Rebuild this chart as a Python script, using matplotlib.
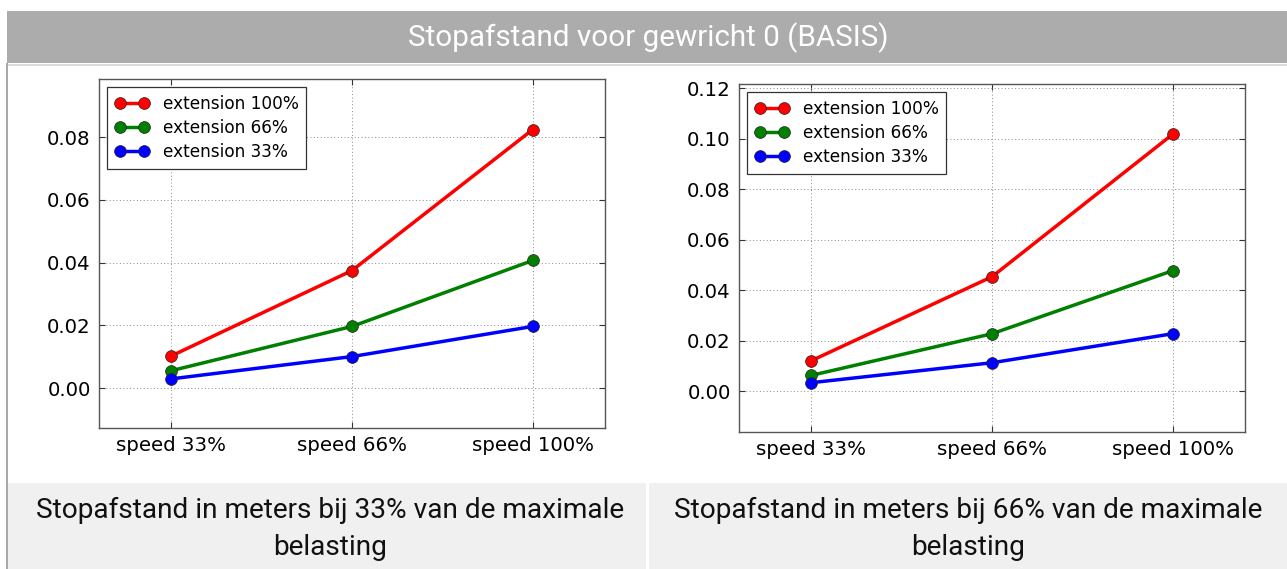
import matplotlib
matplotlib.use("Agg")
import matplotlib.pyplot as plt
from matplotlib.patches import Rectangle

W, H = 1287, 569

title = "Stopafstand voor gewricht 0 (BASIS)"
speeds = ["speed 33%", "speed 66%", "speed 100%"]
series_names = ["extension 100%", "extension 66%", "extension 33%"]
series_colors = ["red", "green", "blue"]

# left chart: 33% load
left_ext100 = [0.0103, 0.0375, 0.0824]
left_ext66 = [0.0056, 0.0197, 0.0407]
left_ext33 = [0.0030, 0.0101, 0.0197]
left_yticks = [0.00, 0.02, 0.04, 0.06, 0.08]

# right chart: 66% load
right_ext100 = [0.0120, 0.0453, 0.1018]
right_ext66 = [0.0062, 0.0227, 0.0477]
right_ext33 = [0.0033, 0.0112, 0.0227]
right_yticks = [0.00, 0.02, 0.04, 0.06, 0.08, 0.10, 0.12]

captions = ["Stopafstand in meters bij 33% van de maximale\nbelasting",
            "Stopafstand in meters bij 66% van de maximale\nbelasting"]

fig = plt.figure(figsize=(W / 100, H / 100), dpi=100)
fig.patch.set_facecolor("white")


def px_rect(x0, y0, x1, y1, **kw):
    fig.patches.append(Rectangle((x0 / W, 1 - y1 / H), (x1 - x0) / W, (y1 - y0) / H,
                                 transform=fig.transFigure, figure=fig, **kw))


# header band
px_rect(7, 11, W, 63, facecolor="#acacac", edgecolor="none")
px_rect(7, 64, W, 66, facecolor="#dcdcdc", edgecolor="none")
# left border line
px_rect(6, 63, 8, H, facecolor="#a8a8a8", edgecolor="none")
# caption boxes
px_rect(8, 483, 646, H, facecolor="#eff0ef", edgecolor="none")
px_rect(649, 483, W, H, facecolor="#eff0ef", edgecolor="none")

fig.text(648 / W, 1 - 38 / H, title, color="white", fontsize=21.3,
         family=["Roboto", "DejaVu Sans"], ha="center", va="center")

for cx, cap in zip([330, 968], captions):
    fig.text(cx / W, 1 - 529 / H, cap, color="#111111", fontsize=20.2,
             family=["Roboto", "DejaVu Sans"], ha="center", va="center",
             linespacing=1.45)


def make_axes(x0, y0, x1, y1, data, yticks, ylim):
    ax = fig.add_axes([x0 / W, 1 - y1 / H, (x1 - x0) / W, (y1 - y0) / H])
    xs = list(range(len(speeds)))
    for vals, name, col in zip(data, series_names, series_colors):
        ax.plot(xs, vals, color=col, lw=2.5, marker="o", ms=8.5,
                mfc=col, mec="#222222", mew=0.5, label=name)
    ax.set_xlim(-0.4, 2.4)
    ax.set_ylim(*ylim)
    ax.set_xticks(xs)
    ax.set_xticklabels(speeds)
    ax.set_yticks(yticks)
    ax.set_yticklabels([f"{v:.2f}" for v in yticks])
    ax.tick_params(direction="in", length=4, width=0.8, labelsize=14.2,
                   top=True, right=True, color="#333333", pad=6)
    ax.grid(True, linestyle=(0, (1, 2.5)), color="#8a8a8a", lw=0.7)
    for s in ax.spines.values():
        s.set_color("#555555")
        s.set_linewidth(1.0)
    leg = ax.legend(loc="upper left", numpoints=2, fontsize=12.2, fancybox=False,
                    framealpha=1, edgecolor="#333333", handlelength=2.0,
                    borderpad=0.45, labelspacing=0.35, handletextpad=0.8,
                    borderaxespad=0.5)
    leg.get_frame().set_linewidth(0.9)
    return ax


make_axes(99, 79, 605, 428, [left_ext100, left_ext66, left_ext33],
          left_yticks, (-0.01265, 0.0985))
make_axes(739, 84, 1245, 432, [right_ext100, right_ext66, right_ext33],
          right_yticks, (-0.01625, 0.1217))

fig.savefig("out.png", dpi=100)
